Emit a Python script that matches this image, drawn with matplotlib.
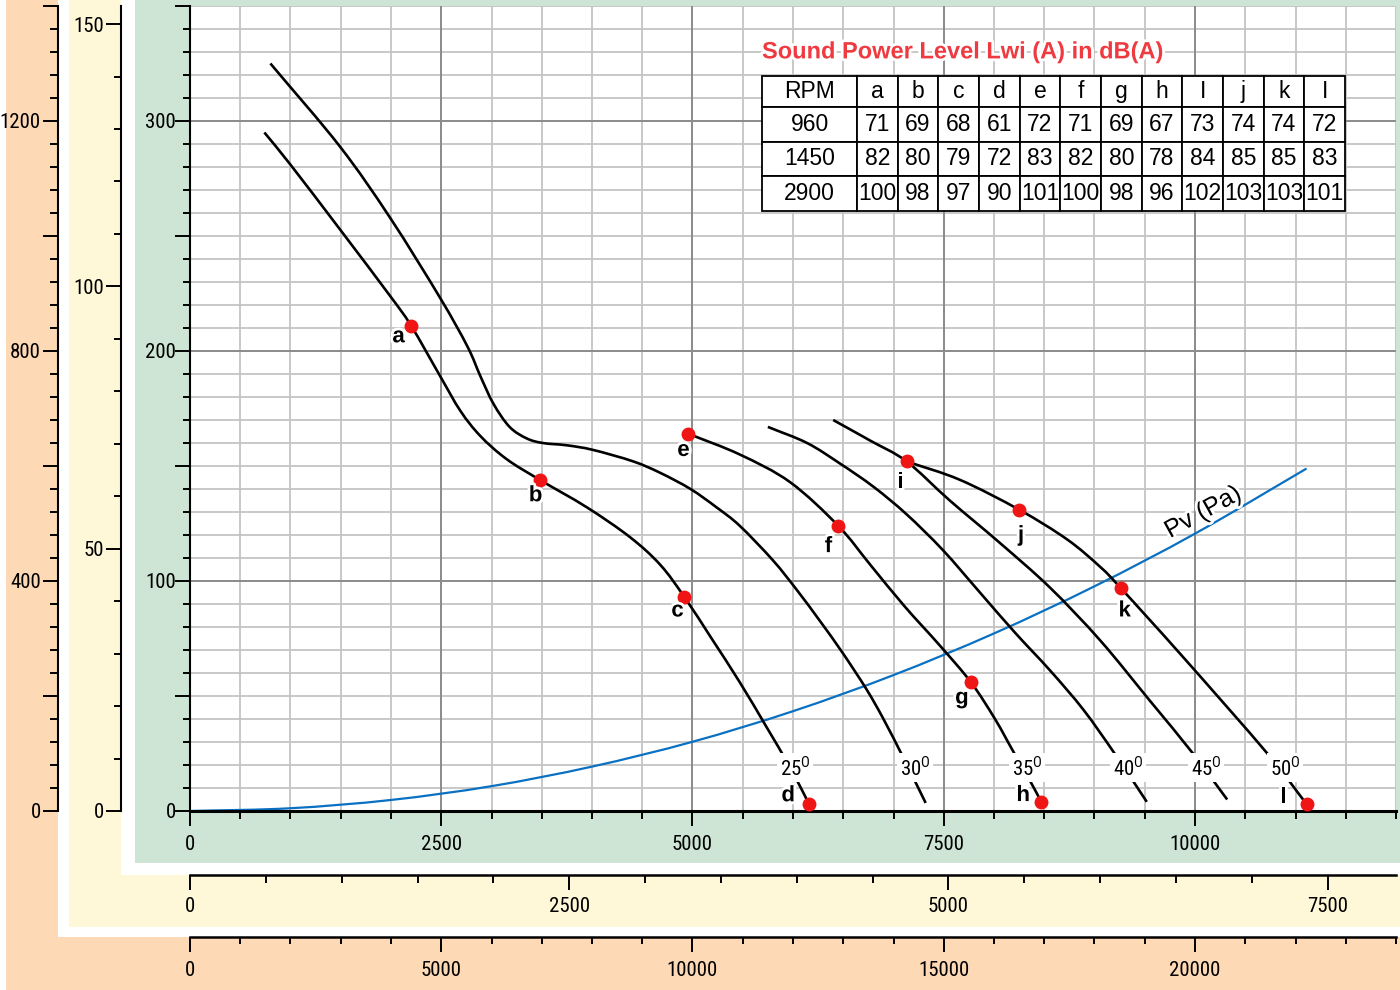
import numpy as np
import matplotlib.pyplot as plt
from matplotlib import font_manager
from matplotlib.patches import Rectangle, PathPatch
from matplotlib.path import Path
from matplotlib.ticker import MultipleLocator, FuncFormatter
import matplotlib.patheffects as pe

# narrow face for the scales if there is one, else plain Liberation Sans a bit smaller
installed = {f.name for f in font_manager.fontManager.ttflist}
narrow = [n for n in ['Liberation Sans Narrow', 'Arial Narrow', 'Roboto Condensed'] if n in installed]
if narrow:
    scale_font, scale_size, tag_size = narrow[0], 15, 15
else:
    scale_font, scale_size, tag_size = 'Liberation Sans', 13, 14
plt.rcParams['font.family'] = [scale_font, 'DejaVu Sans']
plt.rcParams['mathtext.fontset'] = 'custom'
plt.rcParams['mathtext.rm'] = scale_font

# Fan curves per blade angle: airflow (m3/h) vs static pressure (Pa)
angles = [25, 30, 35, 40, 45, 50]
q25 = [740, 1000, 1490, 1990, 2200, 2490, 2690, 2890, 3150, 3480, 3950, 4380, 4680, 4920, 5190, 5470, 5730, 5970, 6160]
p25 = [295, 281, 253, 224, 211, 189, 174, 163, 153, 144, 132, 119, 107, 93, 75, 56, 37, 19, 3]
q30 = [800, 1490, 1990, 2490, 2760, 2890, 3020, 3180, 3350, 3510, 3750, 4010, 4410, 4680, 4980, 5240, 5470, 5800, 6040, 6270, 6490, 6730, 6900, 7100, 7320]
p30 = [325, 289, 258, 223, 202, 189, 177, 167, 162, 160, 159, 157, 152, 147, 140, 132, 124, 109, 96, 82.5, 69, 53, 40, 23, 3.5]
q35 = [4960, 5470, 5970, 6450, 6770, 7110, 7460, 7770, 8010, 8190, 8360, 8470]
p35 = [164, 155, 143, 124, 107, 89, 72, 56, 40, 26, 13, 4]
q40 = [5750, 6140, 6470, 6800, 7130, 7490, 7860, 8210, 8560, 8890, 9200, 9520]
p40 = [167, 160, 151, 141, 129, 113.5, 95, 77.5, 61, 44, 25, 4]
q45 = [6400, 6770, 7130, 7560, 8060, 8560, 9060, 9550, 9980, 10320]
p45 = [170, 161, 152, 135, 116.5, 97, 74, 48, 25, 5]
q50 = [7130, 7660, 8250, 8730, 9060, 9260, 9880, 10720, 11110]
p50 = [152, 144, 131, 118, 106, 97, 67, 25, 3]

# dynamic pressure
pv_q = [0, 1000, 2000, 3000, 4000, 5000, 6000, 7000, 8000, 9000, 10000, 11110]
pv_p = [0, 1.2, 4.8, 10.8, 19.3, 30.1, 43.4, 59.1, 77.2, 97.7, 120.6, 148.9]

# measuring points a..l
pt_names = ['a', 'b', 'c', 'd', 'e', 'f', 'g', 'h', 'i', 'j', 'k', 'l']
pt_q = [2200, 3480, 4920, 6160, 4960, 6450, 7770, 8470, 7130, 8250, 9260, 11110]
pt_p = [211, 144, 93, 3, 164, 124, 56, 4, 152, 131, 97, 3]

# sound power table
table_cols = ['a', 'b', 'c', 'd', 'e', 'f', 'g', 'h', 'I', 'j', 'k', 'I']
rpm = [960, 1450, 2900]
lwi_960 = [71, 69, 68, 61, 72, 71, 69, 67, 73, 74, 74, 72]
lwi_1450 = [82, 80, 79, 72, 83, 82, 80, 78, 84, 85, 85, 83]
lwi_2900 = [100, 98, 97, 90, 101, 100, 98, 96, 102, 103, 103, 101]

curves_q = [q25, q30, q35, q40, q45, q50]
curves_p = [p25, p30, p35, p40, p45, p50]

# label placement (offset points from each dot, x of the angle tags)
pt_offsets = [(-9, -8), (-3, -11.5), (-5, -10), (-15, 6), (-3.6, -12), (-7, -15),
              (-6.5, -11.5), (-13, 4.5), (-4.3, -15), (1.4, -18.7), (2.9, -16.6), (-16.6, 5)]
angle_label_q = [6020, 7214, 8328, 9333, 10109, 10896]


def smooth_path(q, p):
    # Catmull-Rom through the points, written as cubic Bezier segments
    pts = np.column_stack([q, p]).astype(float)
    ext = np.vstack([2 * pts[0] - pts[1], pts, 2 * pts[-1] - pts[-2]])
    verts = [pts[0]]
    codes = [Path.MOVETO]
    for i in range(1, len(ext) - 2):
        p0, p1, p2, p3 = ext[i - 1], ext[i], ext[i + 1], ext[i + 2]
        verts += [p1 + (p2 - p0) / 6, p2 - (p3 - p1) / 6, p2]
        codes += [Path.CURVE4] * 3
    return Path(verts, codes)


W, H = 1400, 990
fig = plt.figure(figsize=(14, 9.9), dpi=100)

def band(x0, y0, x1, y1, color):
    fig.patches.append(Rectangle((x0 / W, 1 - y1 / H), (x1 - x0) / W, (y1 - y0) / H,
                                 transform=fig.transFigure, facecolor=color,
                                 edgecolor='none', zorder=-1))

band(6, 0, 1400, 990, '#fdd9b6')
band(58, 0, 1400, 937, 'white')
band(69, 0, 1400, 927, '#fff8d8')
band(121, 0, 1400, 875, 'white')
band(135, 0, 1400, 863, '#cee5d5')

ax = fig.add_axes([190 / W, 1 - 811 / H, 1206 / W, 805 / H])
ax.set_xlim(0, 12000)
ax.set_ylim(0, 350)

# grid
ax.vlines(np.arange(500, 12001, 500), 0, 350, colors='#c4c4c4', lw=1.3, zorder=1)
ax.hlines(np.arange(10, 351, 10), 0, 12000, colors='#c4c4c4', lw=1.3, zorder=1)
ax.vlines(np.arange(2500, 12001, 2500), 0, 350, colors='#8c8c8c', lw=1.4, zorder=1.1)
ax.hlines(np.arange(100, 351, 100), 0, 12000, colors='#8c8c8c', lw=1.4, zorder=1.1)

ax.add_patch(PathPatch(smooth_path(pv_q, pv_p), facecolor='none', edgecolor='#0a70c2', lw=1.6, zorder=2.5))
for q, p in zip(curves_q, curves_p):
    ax.add_patch(PathPatch(smooth_path(q, p), facecolor='none', edgecolor='black', lw=1.9, zorder=3))

ax.plot(pt_q, pt_p, 'o', color='#f01515', ms=9, zorder=5, clip_on=False)

halo = [pe.withStroke(linewidth=4, foreground='white')]
for name, q, p, off in zip(pt_names, pt_q, pt_p, pt_offsets):
    ax.annotate(name, (q, p), xytext=off, textcoords='offset points', ha='center', va='center',
                fontsize=16, fontweight='bold', family='Liberation Sans', zorder=6, path_effects=halo)

for a, q in zip(angles, angle_label_q):
    ax.text(q, 15.6, f'{a}' + r'$^{\mathrm{O}}$', ha='center', va='baseline', fontsize=tag_size, zorder=6,
            bbox=dict(boxstyle='square,pad=0.12', fc='white', ec='none'))

ax.text(10080, 130, 'Pv (Pa)', rotation=29, rotation_mode='anchor', ha='center', va='center',
        fontsize=18, family='Liberation Sans', zorder=6, path_effects=halo)

ax.text(0.4743, 0.943, 'Sound Power Level Lwi (A) in dB(A)', transform=ax.transAxes,
        color='#ee3a40', fontsize=17, fontweight='bold', family='Liberation Sans',
        ha='left', va='center', zorder=6, path_effects=halo)

rows = [['RPM'] + table_cols]
for r, vals in zip(rpm, [lwi_960, lwi_1450, lwi_2900]):
    rows.append([str(r)] + [str(v) for v in vals])
tbl = ax.table(cellText=rows, cellLoc='center', colWidths=[95] + [40.67] * 12,
               bbox=[0.4743, 0.7453, 0.4834, 0.1677], zorder=6)
tbl.auto_set_font_size(False)
for (r, c), cell in tbl.get_celld().items():
    cell.set_height(31 if r == 0 else 35)
    cell.set_linewidth(1.3)
    cell.set_facecolor('white')
    cell.PAD = 0.02
    cell.get_text().set_fontsize(16.5)
    cell.get_text().set_fontfamily('Liberation Sans')

# main axes
ax.spines[['top', 'right']].set_visible(False)
ax.spines['left'].set_linewidth(1.5)
ax.spines['bottom'].set_linewidth(2.2)
ax.xaxis.set_major_locator(MultipleLocator(2500))
ax.xaxis.set_minor_locator(MultipleLocator(500))
ax.yaxis.set_major_locator(MultipleLocator(50))
ax.yaxis.set_minor_locator(MultipleLocator(10))
ax.yaxis.set_major_formatter(FuncFormatter(lambda v, _: f'{v:.0f}' if v % 100 == 0 else ''))
ax.tick_params(which='major', length=11, width=1.4, labelsize=scale_size)
ax.tick_params(which='minor', length=5.4, width=1.4)
ax.tick_params(axis='x', pad=6)
ax.tick_params(axis='y', pad=-1)

# extra unit scales
yl = ax.secondary_yaxis(-0.0572, functions=(lambda p: p * 0.4384, lambda v: v / 0.4384))
yl.yaxis.set_major_locator(MultipleLocator(50))
yl.yaxis.set_minor_locator(MultipleLocator(10))
yl.spines['left'].set_linewidth(1.5)
yl.tick_params(which='major', length=11, width=1.4, labelsize=scale_size, pad=1.5)
yl.tick_params(which='minor', length=5, width=1.4)

yo = ax.secondary_yaxis(-0.10945, functions=(lambda p: p * 4, lambda v: v / 4))
yo.yaxis.set_major_locator(MultipleLocator(200))
yo.yaxis.set_minor_locator(MultipleLocator(40))
yo.yaxis.set_major_formatter(FuncFormatter(lambda v, _: f'{v:.0f}' if v % 400 == 0 else ''))
yo.spines['left'].set_linewidth(1.5)
yo.tick_params(which='major', length=11, width=1.4, labelsize=scale_size, pad=1.5)
yo.tick_params(which='minor', length=6, width=1.4)

xl = ax.secondary_xaxis(-0.0795, functions=(lambda q: q * 0.6625, lambda v: v / 0.6625))
xl.xaxis.set_major_locator(MultipleLocator(2500))
xl.xaxis.set_minor_locator(MultipleLocator(500))
xl.spines['bottom'].set_linewidth(1.8)
xl.tick_params(which='major', length=10.5, width=1.4, labelsize=scale_size, pad=5)
xl.tick_params(which='minor', length=5.5, width=1.4)

xo = ax.secondary_xaxis(-0.1565, functions=(lambda q: q * 2, lambda v: v / 2))
xo.xaxis.set_major_locator(MultipleLocator(5000))
xo.xaxis.set_minor_locator(MultipleLocator(1000))
xo.spines['bottom'].set_linewidth(1.8)
xo.tick_params(which='major', length=10.5, width=1.4, labelsize=scale_size, pad=7)
xo.tick_params(which='minor', length=5, width=1.4)

fig.savefig('out.png', dpi=100)
